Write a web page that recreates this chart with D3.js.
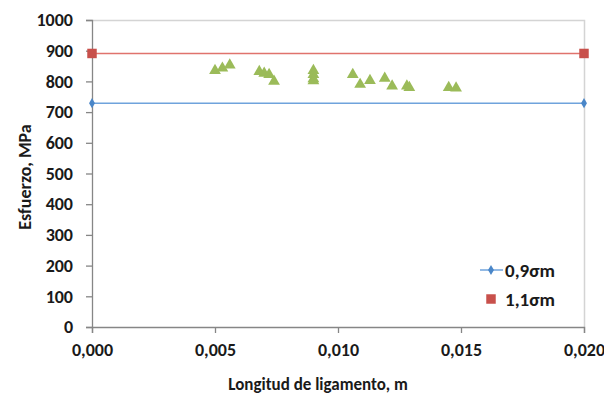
<!DOCTYPE html>
<html>
<head>
<meta charset="utf-8">
<script src="https://cdn.jsdelivr.net/npm/d3@7"></script>
<style>
  body { margin: 0; background: #fff; }
  svg text { font-family: Carlito, Lato, "Open Sans", sans-serif; font-weight: bold; fill: #1a1a1a; }
</style>
</head>
<body>
<svg id="chart" width="604" height="394"></svg>
<script>
// data
var xTicks = [0, 0.005, 0.010, 0.015, 0.020];
var yTicks = [0, 100, 200, 300, 400, 500, 600, 700, 800, 900, 1000];

var lineX = [0, 0.020];
var low = [729, 729];    // 0,9 sigma m
var high = [891, 891];   // 1,1 sigma m

var ptX = [0.0050, 0.0053, 0.0056, 0.0068, 0.0070, 0.0072, 0.0074,
           0.0090, 0.0090, 0.0090, 0.0090, 0.0106, 0.0109, 0.0113,
           0.0119, 0.0122, 0.0128, 0.0129, 0.0145, 0.0148];
var ptY = [835, 843, 853, 832, 826, 822, 800,
           835, 822, 808, 802, 822, 790, 803,
           810, 785, 785, 780, 780, 778];

var legendNames = ["0,9σm", "1,1σm"];

var svg = d3.select("#chart");
var pLeft = 92, pRight = 584, pTop = 20, pBottom = 327;

var x = d3.scaleLinear().domain([0, 0.020]).range([pLeft, pRight]);
var y = d3.scaleLinear().domain([0, 1000]).range([pBottom, pTop]);

// plot border (top + right, light)
svg.append("path")
    .attr("d", "M" + pLeft + "," + (pTop + 0.5) + "H" + (pRight + 0.5) + "V" + pBottom)
    .attr("fill", "none").attr("stroke", "#d4d4d4").attr("stroke-width", 1.5);

var fmt = function(d) { return d3.format(".3f")(d).replace(".", ","); };

var xAxis = svg.append("g")
    .attr("transform", "translate(0," + pBottom + ")")
    .call(d3.axisBottom(x).tickValues(xTicks).tickFormat(fmt).tickSize(6).tickPadding(10));
var yAxis = svg.append("g")
    .attr("transform", "translate(" + pLeft + ",0)")
    .call(d3.axisLeft(y).tickValues(yTicks).tickFormat(d3.format("d")).tickSize(6).tickPadding(13));

[xAxis, yAxis].forEach(function(a) {
    a.select(".domain").attr("stroke", "#868686").attr("stroke-width", 1.3);
    a.selectAll(".tick line").attr("stroke", "#868686").attr("stroke-width", 1.3);
    a.selectAll("text").attr("font-size", 18).attr("font-family", null).attr("fill", "#1a1a1a");
});

// reference lines
var lineGen = d3.line().x(function(d) { return x(d[0]); }).y(function(d) { return y(d[1]); });
svg.append("path").datum(d3.zip(lineX, high)).attr("d", lineGen)
    .attr("fill", "none").attr("stroke", "#e0736d").attr("stroke-width", 1.5);
svg.append("path").datum(d3.zip(lineX, low)).attr("d", lineGen)
    .attr("fill", "none").attr("stroke", "#6fa3dc").attr("stroke-width", 1.5);

var sq = d3.symbol().type(d3.symbolSquare).size(90);
var dia = d3.symbol().type(d3.symbolDiamond).size(30);

svg.selectAll(".sq").data(d3.zip(lineX, high)).enter().append("path")
    .attr("d", sq).attr("fill", "#c8504b")
    .attr("transform", function(d) { return "translate(" + x(d[0]) + "," + y(d[1]) + ")"; });
svg.selectAll(".dia").data(d3.zip(lineX, low)).enter().append("path")
    .attr("d", dia).attr("fill", "#4a86c8")
    .attr("transform", function(d) { return "translate(" + x(d[0]) + "," + y(d[1]) + ")"; });

// triangles
var tri = d3.symbol().type(d3.symbolTriangle).size(60);
svg.selectAll(".tri").data(d3.zip(ptX, ptY)).enter().append("path")
    .attr("d", tri).attr("fill", "#9bbb59")
    .attr("transform", function(d) { return "translate(" + x(d[0]) + "," + y(d[1]) + ")"; });

// axis titles
svg.append("text").attr("x", 318).attr("y", 390)
    .attr("text-anchor", "middle").attr("font-size", 17).text("Longitud de ligamento, m");
svg.append("text").attr("transform", "translate(31,177) rotate(-90)")
    .attr("text-anchor", "middle").attr("font-size", 18).text("Esfuerzo, MPa");

// legend
var lg = svg.append("g");
lg.append("line").attr("x1", 480).attr("x2", 503).attr("y1", 270).attr("y2", 270)
    .attr("stroke", "#6fa3dc").attr("stroke-width", 1.5);
lg.append("path").attr("d", dia).attr("fill", "#4a86c8").attr("transform", "translate(491,270)");
lg.append("path").attr("d", sq).attr("fill", "#c8504b").attr("transform", "translate(491,299)");
lg.selectAll("text").data(legendNames).enter().append("text")
    .attr("x", 505).attr("y", function(d, i) { return 277 + i * 29; })
    .attr("font-size", 19).text(function(d) { return d; });
</script>
</body>
</html>
